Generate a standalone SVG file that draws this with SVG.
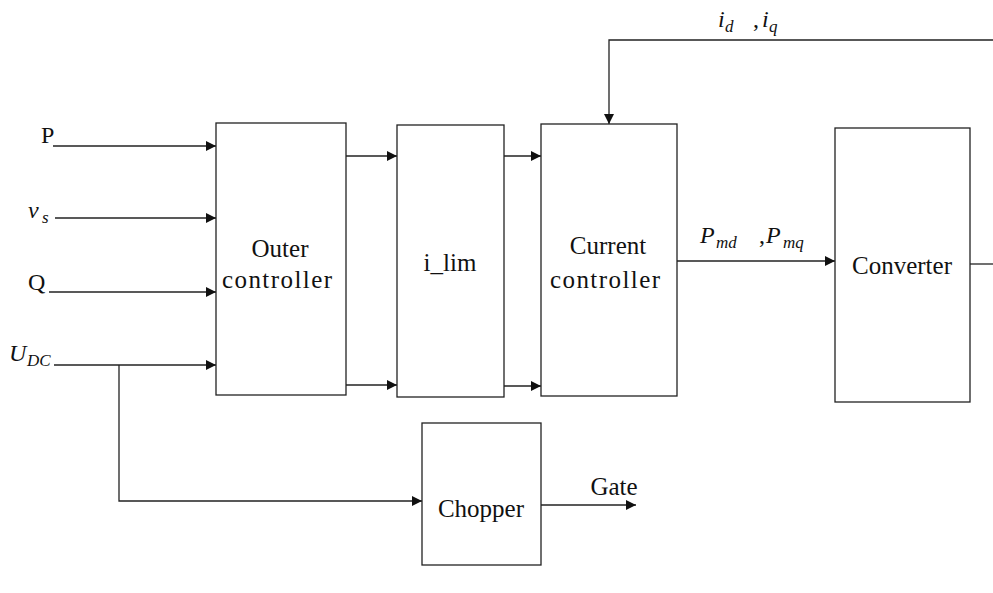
<svg xmlns="http://www.w3.org/2000/svg" width="993" height="593" viewBox="0 0 993 593">
  <style>
    .box { fill: #ffffff; stroke: #222; stroke-width: 1.3; }
    .wire { fill: none; stroke: #222; stroke-width: 1.3; }
    .lbl { font-family: "Liberation Serif", "DejaVu Serif", serif; font-size: 25px; fill: #111; text-anchor: middle; }
    .sym { font-family: "Liberation Serif", "DejaVu Serif", serif; font-size: 24px; fill: #111; }
    .it { font-style: italic; }
    .sub { font-family: "Liberation Serif", "DejaVu Serif", serif; font-style: italic; font-size: 17px; fill: #111; }
  </style>
  <defs>
    <marker id="arrow" viewBox="0 0 10 10" refX="10" refY="5" markerWidth="10" markerHeight="10" markerUnits="userSpaceOnUse" orient="auto">
      <path d="M0,0 L10,5 L0,10 z" fill="#111"/>
    </marker>
  </defs>

  <g id="connectors">
    <!-- external inputs into the outer controller -->
    <line class="wire" x1="53" y1="146" x2="216" y2="146" marker-end="url(#arrow)"/>
    <line class="wire" x1="55" y1="218" x2="216" y2="218" marker-end="url(#arrow)"/>
    <line class="wire" x1="49" y1="292" x2="216" y2="292" marker-end="url(#arrow)"/>
    <line class="wire" x1="54" y1="365" x2="216" y2="365" marker-end="url(#arrow)"/>
    <!-- DC voltage branch to the chopper -->
    <polyline class="wire" points="119,365 119,501 422,501" marker-end="url(#arrow)"/>
    <!-- outer controller to limiter -->
    <line class="wire" x1="346" y1="156" x2="397" y2="156" marker-end="url(#arrow)"/>
    <line class="wire" x1="346" y1="385" x2="397" y2="385" marker-end="url(#arrow)"/>
    <!-- limiter to current controller -->
    <line class="wire" x1="504" y1="156" x2="541" y2="156" marker-end="url(#arrow)"/>
    <line class="wire" x1="504" y1="386" x2="541" y2="386" marker-end="url(#arrow)"/>
    <!-- current feedback -->
    <polyline class="wire" points="993,40 609,40 609,124" marker-end="url(#arrow)"/>
    <!-- modulation index to converter -->
    <line class="wire" x1="677" y1="261" x2="835" y2="261" marker-end="url(#arrow)"/>
    <!-- converter output -->
    <line class="wire" x1="970" y1="264" x2="993" y2="264"/>
    <!-- chopper gate signal -->
    <line class="wire" x1="541" y1="505" x2="636" y2="505" marker-end="url(#arrow)"/>
  </g>

  <g id="outer-controller">
    <rect class="box" x="216" y="123" width="130" height="272"/>
    <text class="lbl" x="280" y="257">Outer</text>
    <text class="lbl" x="277" y="288" textLength="110">controller</text>
  </g>

  <g id="i-lim">
    <rect class="box" x="397" y="125" width="107" height="272"/>
    <text class="lbl" x="450" y="271">i_lim</text>
  </g>

  <g id="current-controller">
    <rect class="box" x="541" y="124" width="136" height="272"/>
    <text class="lbl" x="608" y="254">Current</text>
    <text class="lbl" x="605" y="288" textLength="110">controller</text>
  </g>

  <g id="converter">
    <rect class="box" x="835" y="128" width="135" height="274"/>
    <text class="lbl" x="902" y="274">Converter</text>
  </g>

  <g id="chopper">
    <rect class="box" x="422" y="423" width="119" height="142"/>
    <text class="lbl" x="481" y="517">Chopper</text>
  </g>

  <g id="labels">
    <text class="sym" x="41" y="143">P</text>
    <text class="sym it" x="28" y="218">v</text><text class="sub" x="42" y="223">s</text>
    <text class="sym" x="28" y="290">Q</text>
    <text class="sym it" x="9" y="361">U</text><text class="sub" x="27" y="366">DC</text>
    <text class="sym it" x="718" y="27">i</text><text class="sub" x="725" y="32">d</text>
    <text class="sym" x="753" y="27">,</text>
    <text class="sym it" x="762" y="27">i</text><text class="sub" x="769" y="32">q</text>
    <text class="sym it" x="700" y="243">P</text><text class="sub" x="716" y="248">md</text>
    <text class="sym" x="759" y="243">,</text>
    <text class="sym it" x="766" y="243">P</text><text class="sub" x="783" y="248">mq</text>
    <text class="lbl" x="614" y="495">Gate</text>
  </g>
</svg>
